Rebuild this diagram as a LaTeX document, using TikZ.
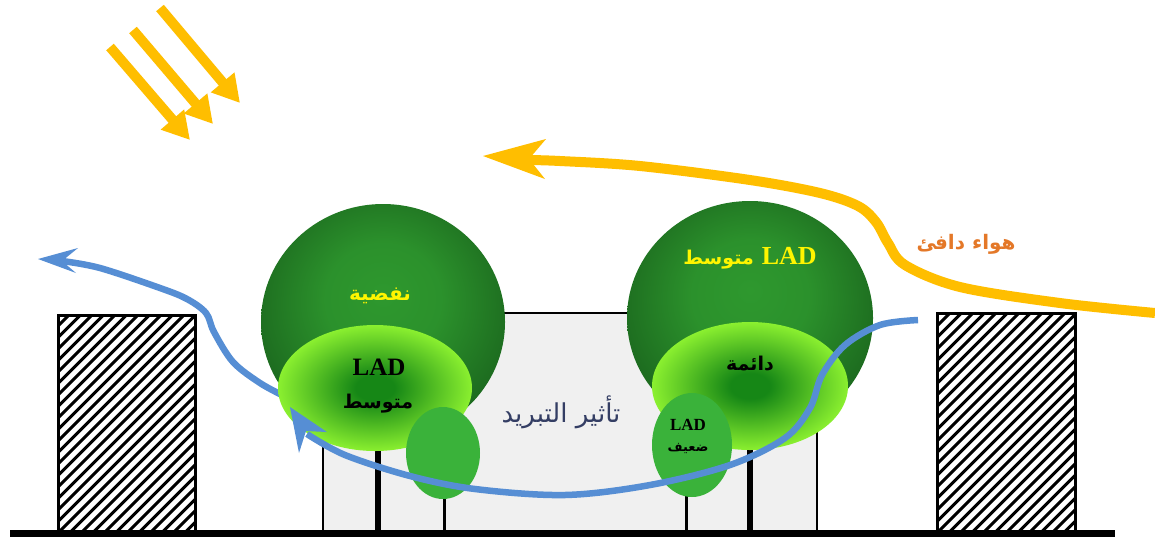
\documentclass[tikz,border=0pt]{standalone}
\usepackage{fontspec}
\setmainfont{Liberation Serif}
\newfontfamily\arabicfont[Script=Arabic]{DejaVu Sans}
\TeXXeTstate=1
\usetikzlibrary{arrows.meta}

\definecolor{crowndark}{RGB}{18,80,22}
\definecolor{crownlight}{RGB}{46,152,46}
\definecolor{limeedge}{RGB}{150,250,50}
\definecolor{limecore}{RGB}{22,135,22}
\definecolor{shrubgreen}{RGB}{58,178,58}
\definecolor{flowblue}{RGB}{86,142,212}
\definecolor{warmyellow}{RGB}{255,190,0}
\definecolor{warmtext}{RGB}{228,120,40}
\definecolor{labelyellow}{RGB}{255,245,0}
\definecolor{coolingtext}{RGB}{52,62,100}
\definecolor{yardgray}{RGB}{240,240,240}

\pgfdeclareradialshading{crownshade}{\pgfpoint{0bp}{6bp}}{%
  color(0bp)=(crownlight); color(12bp)=(crownlight!90!crowndark);
  color(38bp)=(crowndark); color(50bp)=(crowndark!85!black);
  color(60bp)=(crowndark!85!black)}
\pgfdeclareradialshading{leafshade}{\pgfpoint{0bp}{0bp}}{%
  color(0bp)=(limecore); color(5bp)=(limecore);
  color(27bp)=(limeedge); color(50bp)=(limeedge)}

\begin{document}
\begin{tikzpicture}[x=1pt,y=-1pt,
    hatch/.style={line width=3pt,black},
    wall/.style={line width=3pt,black},
    trunk/.style={line width=6pt,black},
    twig/.style={line width=3pt,black},
    crown/.style={shading=crownshade},
    leaves/.style={shading=leafshade},
    shrub/.style={fill=shrubgreen},
    blueflow/.style={line width=6.5pt,flowblue},
    bluehead/.style={fill=flowblue},
    warmflow/.style={line width=10pt,warmyellow},
    warmhead/.style={fill=warmyellow},
    sunray/.style={line width=10pt,warmyellow,
      -{Triangle[length=27pt,width=29pt]}},
  ]
  \useasboundingbox (0,0) rectangle (1155,542);
  \fill[white] (0,0) rectangle (1155,542);

  % courtyard between the trees
  \draw[fill=yardgray,line width=1.2pt] (323,313) rectangle (817,533);

  % trunks
  \draw[trunk] (378,440) -- (378,533);
  \draw[twig]  (444,480) -- (444,533);
  \draw[twig]  (686,480) -- (686,533);
  \draw[trunk] (750,440) -- (750,533);

  % outflow leaving over the left building
  \draw[blueflow] plot[smooth,tension=0.55] coordinates
    {(284,396) (260,383) (233,362) (214,332) (206,313) (187,299) (160,288)
     (100,268) (62,261)};
  \fill[bluehead] (38,259) -- (78,248) -- (62,261) -- (76,273) -- cycle;

  % left tree
  \path[crown] (383,322) ellipse [x radius=122pt, y radius=118pt];
  \path[leaves] (375,388) ellipse [x radius=97pt, y radius=63pt];
  \path[shrub] (443,453) ellipse [x radius=37pt, y radius=46pt];

  % right tree
  \path[crown] (750,318) ellipse [x radius=123pt, y radius=117pt];
  \path[leaves] (750,386) ellipse [x radius=98pt, y radius=64pt];
  \path[shrub] (692,445) ellipse [x radius=40pt, y radius=52pt];

  % labels on the trees
  \node[text=labelyellow,font=\arabicfont\bfseries\fontsize{20}{23}\selectfont]
    (deciduous) at (380,296) {\beginR نفضية\endR};
  \node[font=\bfseries\fontsize{25}{28}\selectfont] (ladleft) at (379,367) {LAD};
  \node[font=\arabicfont\bfseries\fontsize{19}{22}\selectfont]
    (medleft) at (378,404) {\beginR متوسط\endR};

  \node[text=labelyellow,inner sep=0pt] (ladright) at (750,258)
    {{\arabicfont\bfseries\fontsize{19}{22}\selectfont\beginR متوسط\endR}\hspace{8pt}%
     {\bfseries\fontsize{26}{28}\selectfont LAD}};
  \node[font=\arabicfont\bfseries\fontsize{19}{22}\selectfont]
    (evergreen) at (750,364) {\beginR دائمة\endR};
  \node[font=\bfseries\fontsize{17}{20}\selectfont] (ladsmall) at (688,425) {LAD};
  \node[font=\arabicfont\bfseries\fontsize{13}{16}\selectfont]
    (weak) at (688,448) {\beginR ضعيف\endR};

  % cooling effect
  \node[text=coolingtext,font=\arabicfont\fontsize{26}{30}\selectfont]
    (cooling) at (561,412) {\beginR تأثير التبريد\endR};

  % cool air sweeping under the crowns
  \draw[blueflow] plot[smooth,tension=0.55] coordinates
    {(918,320) (880,325) (845,345) (822,375) (810,408) (785,438) (730,465)
     (650,485) (565,495) (475,489) (410,476) (345,455) (307,434)};
  \fill[bluehead] (290,407) -- (327,432) -- (306,431) -- (299,453) -- cycle;

  % warm air passing over
  \draw[warmflow] plot[smooth,tension=0.55] coordinates
    {(1155,313) (1060,303) (960,287) (905,265) (888,243) (876,222) (858,206)
     (820,193) (750,180) (640,166) (560,161) (528,160)};
  \fill[warmhead] (483,156) -- (546,139) -- (529,159) -- (545,179) -- cycle;
  \node[text=warmtext,font=\arabicfont\bfseries\fontsize{20}{24}\selectfont]
    (warm) at (966,244) {\beginR هواء دافئ\endR};

  % hatched buildings
  \begin{scope}
    \clip (58,315) rectangle (195,533);
    \foreach \k in {0,...,36}
      \draw[hatch] ({58-230+11.5*\k},533) -- ++(230,-230);
  \end{scope}
  \draw[wall] (58,315) rectangle (195,533);
  \begin{scope}
    \clip (937,313) rectangle (1075,533);
    \foreach \k in {0,...,36}
      \draw[hatch] ({937-230+11.5*\k},533) -- ++(230,-230);
  \end{scope}
  \draw[wall] (937,313) rectangle (1075,533);

  % ground
  \draw[line width=7pt] (10,533) -- (1115,533);

  % sun rays
  \draw[sunray] (110,47) -- (190,140);
  \draw[sunray] (133,30) -- (213,124);
  \draw[sunray] (160,8) -- (240,103);
\end{tikzpicture}
\end{document}
